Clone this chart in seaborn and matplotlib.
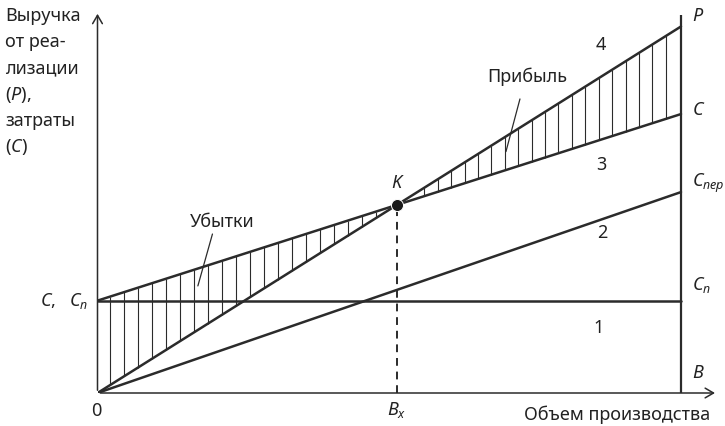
import numpy as np
import pandas as pd
import matplotlib
matplotlib.use('Agg')
import matplotlib.pyplot as plt
import seaborn as sns

# Break-even chart data (volume in % of capacity B, money in % of max revenue P)
volume = [0, 100]
revenue = [0, 99.6]         # line 4, P
total_cost = [25.1, 75.8]   # line 3, C
variable_cost = [0, 54.6]   # line 2, C_пер
fixed_cost = [25.1, 25.1]   # line 1, C_п

sns.set_style("white")
plt.rcParams['font.family'] = ['Noto Sans', 'DejaVu Sans']
plt.rcParams['mathtext.fontset'] = 'custom'
plt.rcParams['mathtext.rm'] = 'Noto Sans'
plt.rcParams['mathtext.it'] = 'Noto Sans:italic'

df = pd.DataFrame({'volume': volume, 'revenue': revenue, 'total': total_cost,
                   'variable': variable_cost, 'fixed': fixed_cost})

fig = plt.figure(figsize=(7.25, 4.27), dpi=100)
ax = fig.add_axes([97.5 / 725, 33 / 427, (718 - 97.5) / 725, (394 - 12) / 427])
ax.set_xlim(0, 100 * (718 - 97.5) / 583.5)
ax.set_ylim(0, 100 * (394 - 12) / 368)
ax.axis('off')

dark = '#2b2b2b'
for col in ['revenue', 'total', 'variable', 'fixed']:
    sns.lineplot(data=df, x='volume', y=col, ax=ax, color=dark, lw=1.8)

# break-even point K
rev_slope = (revenue[1] - revenue[0]) / (volume[1] - volume[0])
cost_slope = (total_cost[1] - total_cost[0]) / (volume[1] - volume[0])
xk = (total_cost[0] - revenue[0]) / (rev_slope - cost_slope)
yk = revenue[0] + rev_slope * xk

# hatching of loss and profit areas
loss_x = np.arange(2.14, xk - 3, 2.4)
profit_x = np.arange(56.0, 98, 2.3)
for xs in [loss_x, profit_x]:
    y_rev = np.interp(xs, volume, revenue)
    y_cost = np.interp(xs, volume, total_cost)
    ax.vlines(xs, np.minimum(y_rev, y_cost), np.maximum(y_rev, y_cost), color=dark, lw=0.8)

ax.vlines(xk, 0, yk, color=dark, lw=1.4, linestyles=(0, (4, 3)))
sns.scatterplot(x=[xk], y=[yk], ax=ax, color='#1a1a1a', s=75, zorder=5)

# axes
ax.vlines(100, 0, 100 * (394 - 16) / 368, color=dark, lw=1.6)
ax.annotate('', xy=(0, 103.8), xytext=(0, 0),
            arrowprops=dict(arrowstyle='->,head_length=0.6,head_width=0.35', color=dark, lw=1.1))
ax.annotate('', xy=(106.3, 0), xytext=(0, 0),
            arrowprops=dict(arrowstyle='->,head_length=0.6,head_width=0.35', color=dark, lw=1.1))

# leader lines
ax.plot([19.7, 17.2], [43.2, 29.1], color=dark, lw=0.9)
ax.plot([72.4, 70.0], [79.9, 65.6], color=dark, lw=0.9)

fs = 13
txt = '#222222'
ax.text(21.3, 46.7, 'Убытки', fontsize=fs, color=txt, ha='center', va='center')
ax.text(73.6, 86.1, 'Прибыль', fontsize=fs, color=txt, ha='center', va='center')
ax.text(51.5, 57.3, '$K$', fontsize=fs, color=txt, ha='center', va='center')
for lab, (x, y) in {'4': (86.2, 94.8), '3': (86.3, 62.2), '2': (86.5, 43.7), '1': (85.8, 17.9)}.items():
    ax.text(x, y, lab, fontsize=fs, color=txt, ha='center', va='center')

# right side labels
ax.text(101.8, 102.6, '$P$', fontsize=fs, color=txt, ha='left', va='center')
ax.text(101.8, 77.2, '$C$', fontsize=fs, color=txt, ha='left', va='center')
ax.text(101.8, 57.3, r'$C_{\mathit{пер}}$', fontsize=fs, color=txt, ha='left', va='center')
ax.text(101.8, 29.6, r'$C_{\mathit{п}}$', fontsize=fs, color=txt, ha='left', va='center')
ax.text(101.8, 5.7, '$B$', fontsize=fs, color=txt, ha='left', va='center')

# left and bottom labels
ax.text(-1.6, 25.3, r'$C,\ \ C_{\mathit{п}}$', fontsize=fs, color=txt, ha='right', va='center')
ax.text(-0.2, -4.6, '0', fontsize=fs, color=txt, ha='center', va='center')
ax.text(51.3, -4.4, r'$B_{\mathit{x}}$', fontsize=fs, color=txt, ha='center', va='center')
ax.text(89.0, -5.7, 'Объем производства', fontsize=fs, color=txt, ha='center', va='center')

ylab = ['Выручка', 'от реа-', 'лизации', '($P$),', 'затраты', '($C$)']
for i, line in enumerate(ylab):
    fig.text(5 / 725, 1 - (16 + 26.2 * i) / 427, line, fontsize=fs, color=txt,
             ha='left', va='center')

fig.savefig('out.png', dpi=100)
